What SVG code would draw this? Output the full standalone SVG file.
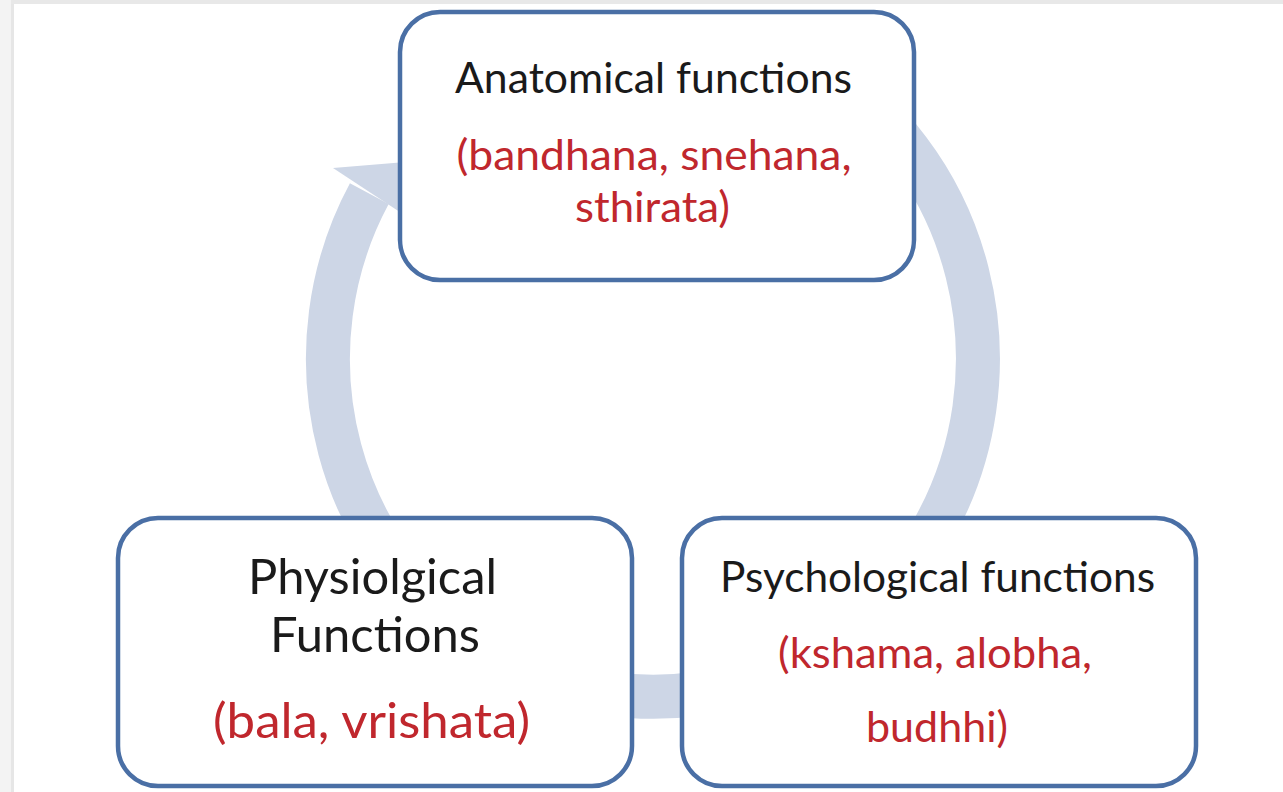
<svg xmlns="http://www.w3.org/2000/svg" width="1283" height="792" viewBox="0 0 1283 792">
<style>
.box{fill:#ffffff;stroke:#4a6fa5;stroke-width:4.5}
.t{font-family:Lato,"Liberation Sans",sans-serif;text-anchor:middle}
.k{fill:#1a1a1a}
.r{fill:#c0272d}
.band{fill:none;stroke:#cdd6e6;stroke-width:44}
</style>
<rect x="0" y="0" width="1283" height="792" fill="#ffffff"/>
<rect x="0" y="0" width="1283" height="4" fill="#e8e8e8"/>
<rect x="0" y="0" width="11" height="792" fill="#f3f3f3"/>
<rect x="11" y="4" width="3" height="788" fill="#e6e6e6"/>
<g id="connectors">
<path class="band" d="M 817.5 67.3 A 325 338 0 1 1 369.3 193.7"/>
<polygon points="333,168 430,160 415,222" fill="#cdd6e6"/>
</g>
<g id="anatomical">
<rect class="box" x="400" y="12" width="514" height="268" rx="40"/>
<text class="t k" x="653.5" y="93" font-size="43" textLength="397" lengthAdjust="spacingAndGlyphs">Anatomical functions</text>
<text class="t r" x="654" y="170" font-size="43" textLength="395" lengthAdjust="spacingAndGlyphs">(bandhana, snehana,</text>
<text class="t r" x="652.5" y="222" font-size="43" textLength="155" lengthAdjust="spacingAndGlyphs">sthirata)</text>
</g>
<g id="physiological">
<rect class="box" x="118" y="518" width="514" height="268" rx="40"/>
<text class="t k" x="372.5" y="594" font-size="48" textLength="249" lengthAdjust="spacingAndGlyphs">Physiolgical</text>
<text class="t k" x="375" y="652" font-size="48" textLength="210" lengthAdjust="spacingAndGlyphs">Functions</text>
<text class="t r" x="371.5" y="738" font-size="48" textLength="317" lengthAdjust="spacingAndGlyphs">(bala, vrishata)</text>
</g>
<g id="psychological">
<rect class="box" x="682" y="518" width="514" height="268" rx="40"/>
<text class="t k" x="937.5" y="592" font-size="43" textLength="435" lengthAdjust="spacingAndGlyphs">Psychological functions</text>
<text class="t r" x="935" y="668" font-size="43" textLength="314" lengthAdjust="spacingAndGlyphs">(kshama, alobha,</text>
<text class="t r" x="937" y="742" font-size="43" textLength="142" lengthAdjust="spacingAndGlyphs">budhhi)</text>
</g>
</svg>
